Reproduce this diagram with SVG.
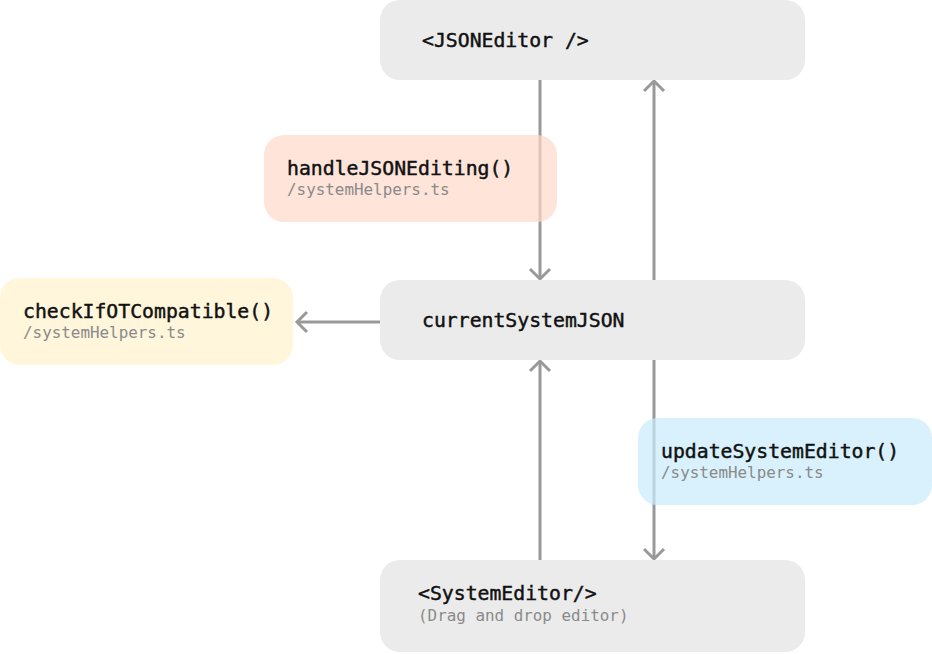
<svg xmlns="http://www.w3.org/2000/svg" width="932" height="654" viewBox="0 0 932 654">
<defs>
<style>
.box{fill:#ebebeb}
.t{font-family:"DejaVu Sans Mono","Liberation Mono",monospace;font-size:19.8px;fill:#111;stroke:#111;stroke-width:0.45px}
.s{font-family:"DejaVu Sans Mono","Liberation Mono",monospace;font-size:15.9px;fill:#8a8a8a}
.ln{stroke:#999;stroke-width:3;fill:none}
</style>
<marker id="ah" viewBox="-12 -12 24 24" markerWidth="24" markerHeight="24" refX="0" refY="0" orient="auto" markerUnits="userSpaceOnUse">
<polyline points="-10,-10 0,0 -10,10" fill="none" stroke="#999" stroke-width="3"/>
</marker>
</defs>
<rect width="932" height="654" fill="#fff"/>
<g id="connectors">
<line class="ln" x1="540" y1="80" x2="540" y2="279" marker-end="url(#ah)"/>
<line class="ln" x1="654" y1="280" x2="654" y2="81" marker-end="url(#ah)"/>
<line class="ln" x1="380" y1="322" x2="297" y2="322" marker-end="url(#ah)"/>
<line class="ln" x1="540" y1="560" x2="540" y2="361" marker-end="url(#ah)"/>
<line class="ln" x1="654" y1="360" x2="654" y2="559" marker-end="url(#ah)"/>
</g>
<g id="jsoneditor">
<rect class="box" x="380" y="0" width="425" height="80" rx="20"/>
<text class="t" x="422" y="47">&lt;JSONEditor /&gt;</text>
</g>
<g id="handlejsonediting">
<rect x="264" y="135" width="293" height="87" rx="20" fill="rgb(253,216,201)" fill-opacity="0.7"/>
<text class="t" x="287" y="175">handleJSONEditing()</text>
<text class="s" x="287" y="195">/systemHelpers.ts</text>
</g>
<g id="currentsystemjson">
<rect class="box" x="380" y="280" width="425" height="80" rx="20"/>
<text class="t" x="422" y="327">currentSystemJSON</text>
</g>
<g id="checkifotcompatible">
<rect x="0" y="278" width="293" height="87" rx="20" fill="#fff6db"/>
<text class="t" x="23" y="318">checkIfOTCompatible()</text>
<text class="s" x="23" y="338">/systemHelpers.ts</text>
</g>
<g id="updatesystemeditor">
<rect x="638" y="418" width="294" height="87" rx="20" fill="rgb(200,235,251)" fill-opacity="0.7"/>
<text class="t" x="661" y="458">updateSystemEditor()</text>
<text class="s" x="661" y="478">/systemHelpers.ts</text>
</g>
<g id="systemeditor">
<rect class="box" x="380" y="560" width="425" height="92" rx="20"/>
<text class="t" x="418" y="600">&lt;SystemEditor/&gt;</text>
<text class="s" x="418" y="621">(Drag and drop editor)</text>
</g>
</svg>
